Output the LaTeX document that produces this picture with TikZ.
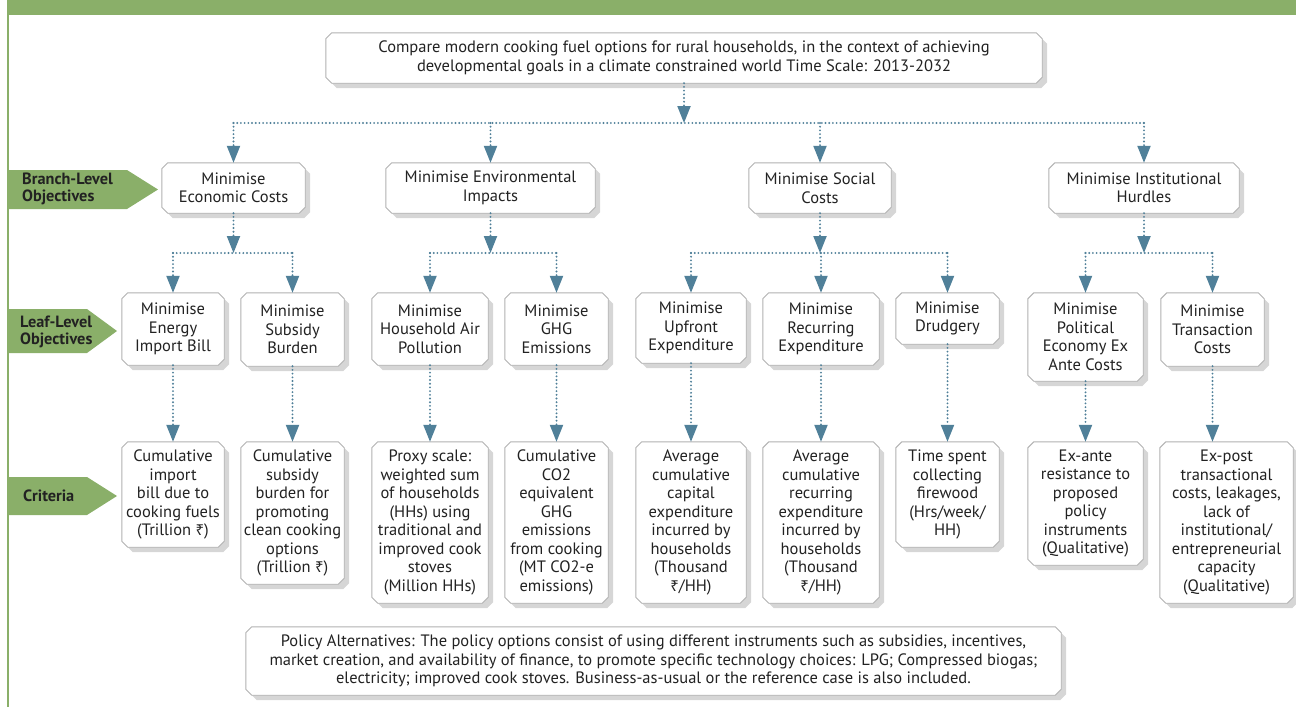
\documentclass[tikz,border=0pt]{standalone}
\usepackage{fontspec}
\setmainfont{PT Sans}
\newfontfamily\rupfont{Noto Sans}
\usetikzlibrary{arrows.meta,calc}
\pgfdeclarelayer{background}
\pgfsetlayers{background,main}
\definecolor{grn}{RGB}{138,175,105}
\definecolor{arr}{RGB}{80,128,153}
\definecolor{shadowc}{RGB}{214,214,214}
\definecolor{edgec}{RGB}{178,178,178}
\definecolor{txt}{RGB}{34,34,34}
\newcommand\rupee{{\rupfont\fontsize{15}{15}\selectfont ₹}}
\newcommand\chbox[1]{%
  \fill[shadowc] ($(#1.north west)+(11pt,-5pt)$) -- ($(#1.north east)+(-1pt,-5pt)$) -- ($(#1.north east)+(5pt,-11pt)$) -- ($(#1.south east)+(5pt,1pt)$) -- ($(#1.south east)+(-1pt,-5pt)$) -- ($(#1.south west)+(11pt,-5pt)$) -- ($(#1.south west)+(5pt,1pt)$) -- ($(#1.north west)+(5pt,-11pt)$) -- cycle;
  \draw[edgec, line width=0.9pt, fill=white] ($(#1.north west)+(6pt,0pt)$) -- ($(#1.north east)+(-6pt,0pt)$) -- ($(#1.north east)+(0pt,-6pt)$) -- ($(#1.south east)+(0pt,6pt)$) -- ($(#1.south east)+(-6pt,0pt)$) -- ($(#1.south west)+(6pt,0pt)$) -- ($(#1.south west)+(0pt,6pt)$) -- ($(#1.north west)+(0pt,-6pt)$) -- cycle;}
\tikzset{
  box/.style={align=center, inner sep=0pt, text=txt, font=\fontsize{16.5}{18.5}\selectfont},
  lbl/.style={align=left, inner sep=0pt, anchor=west, text=txt, font=\bfseries\fontsize{16.3}{17}\selectfont},
  conn/.style={draw=arr, line width=2.1pt, line cap=round, dash pattern=on 0pt off 3.7pt},
  arrowc/.style={conn, -{Triangle[width=13pt,length=17pt,fill=arr]}}
}
\begin{document}
\begin{tikzpicture}[x=1pt,y=-1pt]
\useasboundingbox (0,0) rectangle (1296,707);
% frame
\fill[grn] (8,0) rectangle (1296,15);
\draw[grn, line width=1.5pt] (8,0) -- (8,707);
% side labels
\fill[grn] (8,170) -- (127,170) -- (158,189.5) -- (127,209) -- (8,209) -- cycle;
\node[lbl] (lblbranch) at (22,189) {Branch-Level\\Objectives};
\fill[grn] (8,309) -- (87,309) -- (117,331) -- (87,353) -- (8,353) -- cycle;
\node[lbl] (lblleaf) at (20,332) {Leaf-Level\\Objectives};
\fill[grn] (8,477) -- (87,477) -- (117,496) -- (87,515) -- (8,515) -- cycle;
\node[lbl] (lblcrit) at (23,496) {Criteria};
% top
\node[box, minimum width=716pt, minimum height=50pt] (top) at (684,58) {Compare modern cooking fuel options for rural households, in the context of achieving\\developmental goals in a climate constrained world Time Scale: 2013-2032};
% branches
\node[box, minimum width=143pt, minimum height=50pt] (econ) at (233.5,188) {Minimise\\Economic Costs};
\node[box, minimum width=209pt, minimum height=50pt] (env) at (490.5,188) {Minimise Environmental\\Impacts};
\node[box, minimum width=142pt, minimum height=50pt] (soc) at (820,188) {Minimise Social\\Costs};
\node[box, minimum width=190pt, minimum height=50pt] (inst) at (1144,188) {Minimise Institutional\\Hurdles};
% leaves
\node[box, minimum width=102pt, minimum height=72pt] (l1) at (173,329) {Minimise\\Energy\\Import Bill};
\node[box, minimum width=103pt, minimum height=73pt] (l2) at (292.5,329.5) {Minimise\\Subsidy\\Burden};
\node[box, minimum width=116pt, minimum height=72pt] (l3) at (430,329) {Minimise\\Household Air\\Pollution};
\node[box, minimum width=103pt, minimum height=72pt] (l4) at (556.5,329) {Minimise\\GHG\\Emissions};
\node[box, minimum width=110pt, minimum height=70pt] (l5) at (691,328) {Minimise\\Upfront\\Expenditure};
\node[box, minimum width=116pt, minimum height=72pt] (l6) at (821,329) {Minimise\\Recurring\\Expenditure};
\node[box, minimum width=103pt, minimum height=51pt] (l7) at (947.5,318.5) {Minimise\\Drudgery};
\node[box, minimum width=115pt, minimum height=88pt] (l8) at (1085.5,337) {Minimise\\Political\\Economy Ex\\Ante Costs};
\node[box, minimum width=103pt, minimum height=73pt] (l9) at (1212.5,329.5) {Minimise\\Transaction\\Costs};
% criteria
\node[box, minimum width=102pt, minimum height=105pt] (c1) at (173,494.5) {Cumulative\\import\\bill due to\\cooking fuels\\(Trillion \rupee)};
\node[box, minimum width=103pt, minimum height=142pt] (c2) at (292.5,513) {Cumulative\\subsidy\\burden for\\promoting\\clean cooking\\options\\(Trillion \rupee)};
\node[box, minimum width=116pt, minimum height=161pt] (c3) at (430,522.5) {Proxy scale:\\weighted sum\\of households\\(HHs) using\\traditional and\\improved cook\\stoves\\(Million HHs)};
\node[box, minimum width=103pt, minimum height=161pt] (c4) at (556.5,522.5) {Cumulative\\CO2\\equivalent\\GHG\\emissions\\from cooking\\(MT CO2-e\\emissions)};
\node[box, minimum width=110pt, minimum height=161pt] (c5) at (691,522.5) {Average\\cumulative\\capital\\expenditure\\incurred by\\households\\(Thousand\\\rupee/HH)};
\node[box, minimum width=116pt, minimum height=161pt] (c6) at (821,522.5) {Average\\cumulative\\recurring\\expenditure\\incurred by\\households\\(Thousand\\\rupee/HH)};
\node[box, minimum width=103pt, minimum height=105pt] (c7) at (947.5,494.5) {Time spent\\collecting\\firewood\\(Hrs/week/\\HH)};
\node[box, minimum width=115pt, minimum height=123pt] (c8) at (1085.5,503.5) {Ex-ante\\resistance to\\proposed\\policy\\instruments\\(Qualitative)};
\node[box, minimum width=133pt, minimum height=161pt] (c9) at (1226.5,522.5) {Ex-post\\transactional\\costs, leakages,\\lack of\\institutional/\\entrepreneurial\\capacity\\(Qualitative)};
% policy
\node[box, minimum width=815pt, minimum height=68pt] (pol) at (653.5,661) {Policy Alternatives: The policy options consist of using different instruments such as subsidies, incentives,\\market creation, and availability of finance, to promote specific technology choices: LPG; Compressed biogas;\\electricity; improved cook stoves. Business-as-usual or the reference case is also included.};
% box outlines on background
\begin{pgfonlayer}{background}
\foreach \n in {top,econ,env,soc,inst,l1,l2,l3,l4,l5,l6,l7,l8,l9,c1,c2,c3,c4,c5,c6,c7,c8,c9,pol} {\chbox{\n}}
\end{pgfonlayer}
% connectors
\coordinate (j0) at (684,123);
\coordinate (j1) at (684,253);
\draw[arrowc] (top.south) -- (top.south |- j0);
\draw[conn] (econ.north |- j0) -- (inst.north |- j0);
\foreach \b in {econ,env,soc,inst} {\draw[arrowc] (\b.north |- j0) -- (\b.north);}
\foreach \b in {econ,env,soc,inst} {\draw[arrowc] (\b.south) -- (\b.south |- j1);}
\draw[conn] (l1.north |- j1) -- (l2.north |- j1);
\draw[conn] (l3.north |- j1) -- (l4.north |- j1);
\draw[conn] (l5.north |- j1) -- (l7.north |- j1);
\draw[conn] (l8.north |- j1) -- (l9.north |- j1);
\foreach \l in {l1,l2,l3,l4,l5,l6,l7,l8,l9} {\draw[arrowc] (\l.north |- j1) -- (\l.north);}
\foreach \l/\c in {l1/c1,l2/c2,l3/c3,l4/c4,l5/c5,l6/c6,l7/c7,l8/c8} {\draw[arrowc] (\l.south) -- (\l.south |- \c.north);}
\draw[arrowc] (l9.south) -- (l9.south |- c9.north);
\end{tikzpicture}
\end{document}
